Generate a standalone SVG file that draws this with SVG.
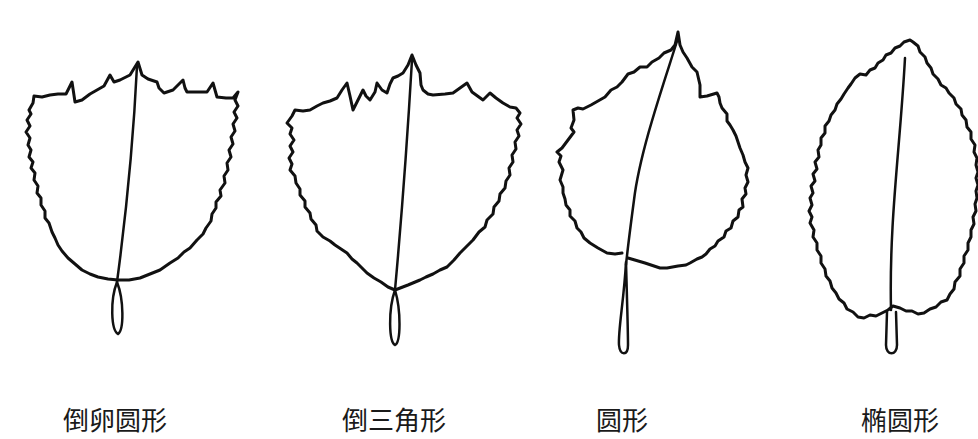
<svg xmlns="http://www.w3.org/2000/svg" width="978" height="439" viewBox="0 0 978 439">
<style>
.leaf{fill:none;stroke:#111;stroke-width:3;stroke-linejoin:round;stroke-linecap:round}
.vein{fill:none;stroke:#111;stroke-width:2.5;stroke-linecap:round}
.lbl{font-family:"Noto Sans CJK SC","Noto Sans CJK JP",sans-serif;font-size:26px;fill:#1a1a1a}
</style>
<rect width="978" height="439" fill="#fff"/>
<g id="leaf1">
<path class="leaf" d="M138,62 L142,75 L148,79 L157,82 L159,88 L164,93 L173,90 L183,80 L185,88 L187,92 L197,92 L207,92 L213,83 L215,90 L217,97 L226,98 L233,98 L238,92 L235,100 L238,106 L234,112 L237,118 L233,124 L235,131 L231,137 L233,144 L229,150 L231,157 L227,163 L228,170 L224,176 L225,183 L220,190 L221,196 L216,202 L216,208 L212,214 L211,221 L206,228 L203,234 L197,240 L190,248 L184,252 L178,258 L170,263 L160,270 L150,274 L140,278 L129,280 L118,280 L108,279 L98,277 L90,274 L82,270 L75,264 L68,258 L62,251 L58,245 L55,238 L52,232 L49,223 L45,218 L45,211 L41,205 L41,198 L37,193 L38,186 L34,180 L35,173 L31,168 L33,162 L29,157 L31,150 L28,145 L30,138 L26,132 L30,126 L27,120 L31,114 L29,110 L33,103 L34,96 L42,97 L50,95 L58,94 L66,94 L72,82 L75,102 L82,100 L90,94 L97,90 L104,86 L110,75 L114,82 L120,80 L130,75 Z"/>
<path class="vein" d="M137,66 Q132,170 117,282"/>
<path class="vein" d="M117,282 C110,300 111,330 118,334 C124,330 124,300 117,282"/>
</g>
<g id="leaf2">
<path class="leaf" d="M412,55 L416,65 L420,73 L421,85 L423,90 L428,94 L433,95 L445,94 L453,93 L460,88 L467,83 L472,92 L483,100 L490,93 L496,98 L503,103 L510,107 L516,108 L520,113 L517,118 L521,124 L517,130 L519,136 L515,142 L516,149 L512,155 L513,162 L509,168 L510,175 L506,181 L505,188 L500,194 L499,201 L494,207 L493,214 L487,220 L485,227 L479,232 L473,240 L467,246 L460,253 L454,260 L447,267 L440,270 L433,274 L426,277 L420,280 L408,285 L395,290 L388,287 L381,282 L374,278 L367,273 L362,268 L357,263 L352,259 L347,253 L341,249 L335,245 L330,241 L323,237 L317,231 L316,225 L311,219 L310,213 L305,207 L305,201 L300,195 L300,189 L296,183 L295,176 L290,170 L292,164 L289,158 L293,152 L290,146 L294,140 L290,134 L292,128 L287,123 L292,116 L295,110 L303,111 L310,110 L317,106 L323,103 L330,101 L337,98 L342,90 L347,83 L350,96 L353,110 L358,100 L363,90 L366,96 L370,100 L375,92 L377,83 L382,90 L387,93 L390,84 L393,78 L398,76 L403,73 L408,65 Z"/>
<path class="vein" d="M412,60 Q405,180 395,290"/>
<path class="vein" d="M395,290 C388,310 389,342 395,345 C401,342 401,310 395,290"/>
</g>
<g id="leaf3">
<path class="leaf" d="M628,258 L645,263 L660,268 L667,268 L678,266 L686,265 L690,263 L697,259 L702,257 L706,254 L710,249 L715,246 L718,241 L724,237 L726,231 L731,228 L733,221 L738,217 L739,210 L743,207 L742,199 L746,194 L745,188 L748,182 L746,175 L748,168 L745,162 L743,155 L740,148 L738,142 L736,136 L733,130 L730,125 L727,121 L727,114 L722,108 L720,103 L719,97 L717,93 L707,96 L700,97 L700,85 L697,72 L692,67 L687,58 L683,52 L680,45 L678,32 L675,45 L671,50 L664,53 L659,58 L652,62 L647,67 L640,67 L634,72 L628,74 L622,82 L617,87 L611,90 L605,97 L598,101 L591,105 L583,109 L578,108 L573,110 L574,120 L571,128 L574,132 L568,140 L562,148 L557,152 L561,156 L559,162 L563,170 L560,180 L563,187 L563,193 L565,199 L566,205 L570,210 L570,216 L575,221 L577,228 L581,232 L584,238 L590,243 L598,248 L607,253 L615,254 L622,253"/>
<path class="vein" d="M678,38 C665,80 640,150 634,200 C630,230 627,255 626,265"/>
<path class="vein" d="M626,262 C624,300 618,330 619,345 C620,356 628,356 628,345 C628,330 627,300 626,262"/>
</g>
<g id="leaf4">
<path class="leaf" d="M910,40 L904,42 L900,46 L895,48 L891,53 L886,55 L883,60 L878,63 L875,68 L870,70 L866,75 L860,74 L855,78 L851,84 L848,88 L844,94 L841,99 L837,104 L835,110 L831,115 L829,121 L825,126 L825,133 L821,138 L821,145 L818,150 L819,157 L815,162 L817,169 L813,174 L815,181 L811,186 L813,193 L810,198 L812,205 L809,211 L812,217 L810,223 L814,230 L813,237 L817,243 L817,250 L821,256 L821,263 L825,269 L826,276 L830,281 L832,288 L836,293 L839,299 L844,303 L847,309 L853,312 L858,317 L864,318 L870,315 L876,316 L882,313 L888,310 L893,306 L900,308 L906,311 L912,311 L918,314 L924,313 L930,309 L936,307 L941,302 L947,300 L950,294 L954,289 L955,282 L960,276 L960,269 L964,263 L964,256 L968,250 L968,243 L971,237 L971,230 L974,224 L973,217 L976,211 L975,204 L977,198 L976,191 L978,185 L976,178 L978,172 L976,165 L977,158 L974,152 L975,145 L971,139 L971,132 L967,127 L966,120 L962,115 L961,109 L956,104 L954,98 L949,93 L946,88 L941,85 L938,79 L933,74 L931,68 L927,63 L925,57 L920,52 L918,46 L913,42 Z"/>
<path class="vein" d="M905,58 C900,150 889,220 891,310"/>
<path class="vein" d="M887,312 L886,345 C886,356 897,356 897,345 L896,312"/>
</g>
<g id="labels">
<text class="lbl" x="63" y="430">倒卵圆形</text>
<text class="lbl" x="342" y="430">倒三角形</text>
<text class="lbl" x="596" y="430">圆形</text>
<text class="lbl" x="861" y="430">椭圆形</text>
</g>
</svg>
